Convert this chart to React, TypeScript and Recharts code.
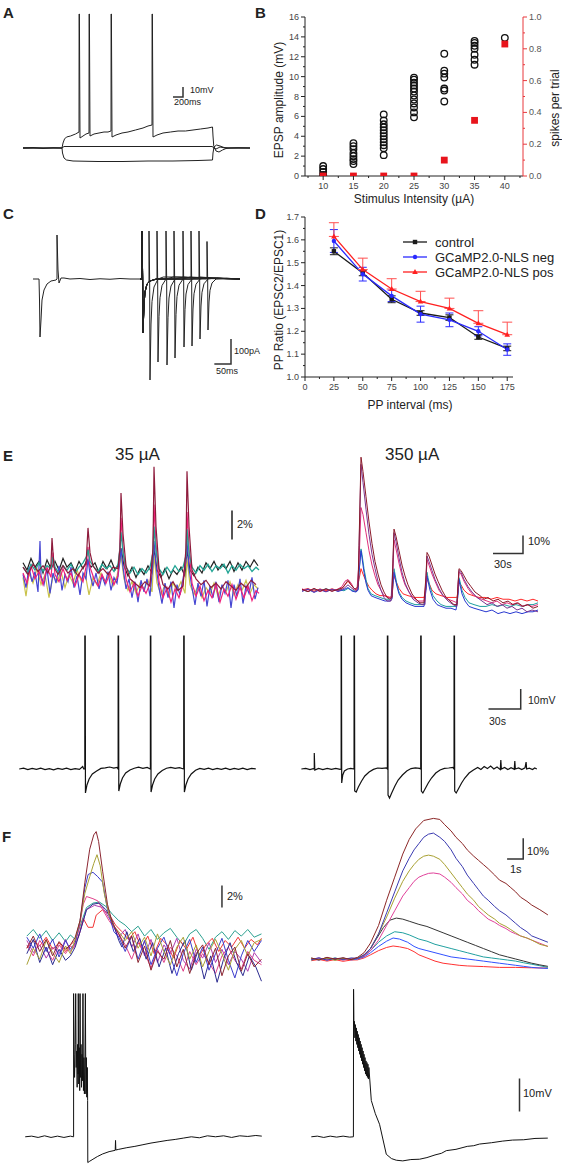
import React from 'react';
import { LineChart, Line, XAxis, YAxis, ComposedChart, Scatter, ErrorBar } from 'recharts';

const FONT = '"Liberation Sans", Arial, Helvetica, sans-serif';

// ---------------- Panel A : current-clamp steps (t ms, v mV) ----------------
const aSpiking = [[0,0],[200,0.5],[400,-0.5],[600,0.3],[780,0],[800,5],[830,9],[870,11],[950,12],[1050,14],[1120,16],[1122,134],[1128,134],[1140,10],[1200,12],[1260,14],[1320,15],[1322,134],[1328,134],[1340,12],[1420,14],[1520,15],[1620,16],[1700,16],[1760,17],[1762,134],[1768,134],[1780,11],[1860,13],[1980,15],[2100,16],[2250,18],[2400,20],[2500,22],[2580,23],[2582,134],[2588,134],[2600,11],[2680,13],[2800,15],[2950,16],[3100,17],[3250,17],[3400,18],[3550,19],[3700,20],[3790,21],[3800,12],[3815,2],[3860,-3],[3920,-4],[3990,-2],[4060,-0.5],[4140,0],[4300,0.3],[4540,0]];
const aSubthreshold = [[0,0.3],[780,0],[820,1.5],[1500,1.5],[2500,1.5],[3790,1.5],[3810,0],[3860,-1],[3940,1],[4040,0],[4540,0]];
const aHyperpol = [[0,-0.3],[780,0],[790,-5],[820,-10],[870,-12],[1000,-13],[1500,-13.5],[2000,-13.5],[2500,-13],[3000,-13],[3500,-12.5],[3790,-12],[3800,-5],[3820,1],[3870,3],[3940,2],[4020,0.5],[4120,0],[4540,0]];
const aScaleBar = [[3000,51],[3200,51],[3200,61]];

// ---------------- Panel B : EPSP amplitude vs stimulus ----------------
const stimIntensity = [10, 15, 20, 25, 30, 35, 40];
const epspAt10 = [0.1, 0.4, 0.7, 1.0];
const epspAt15 = [1.2, 1.5, 1.7, 2.0, 2.3, 2.7, 3.0, 3.3];
const epspAt20 = [2.1, 2.8, 3.1, 3.4, 3.7, 4.0, 4.3, 4.6, 4.9, 5.2, 5.6, 6.2];
const epspAt25 = [5.9, 6.4, 6.9, 7.3, 7.7, 8.1, 8.5, 8.8, 9.1, 9.4, 9.7, 9.9];
const epspAt30 = [7.5, 8.6, 8.8, 9.9, 10.3, 10.6, 12.3];
const epspAt35 = [11.2, 11.7, 12.2, 12.8, 13.1, 13.4, 13.6];
const epspAt40 = [13.9];
const epspByIntensity = [epspAt10, epspAt15, epspAt20, epspAt25, epspAt30, epspAt35, epspAt40];
const spikesPerTrial = [0, 0, 0, 0, 0.1, 0.35, 0.83];
const bTicksX = [7.5,10,12.5,15,17.5,20,22.5,25,27.5,30,32.5,35,37.5,40,42.5];
const bTicksLeft = [0,1,2,3,4,5,6,7,8,9,10,11,12,13,14,15,16];
const bTicksRight = [0,0.1,0.2,0.3,0.4,0.5,0.6,0.7,0.8,0.9,1.0];

// ---------------- Panel C : EPSCs (t ms, i pA) ----------------
const cFirst = [[9,0],[27,0],[28.5,-84],[30,-232],[33,-164],[36,-84],[42,-44],[51,-20],[63,-8],[78,-4],[81,0],[81,176],[84,36],[87,-16],[93,4],[102,4],[120,0],[150,2],[180,-2],[210,1],[240,-1],[270,2],[300,0],[333,0]];
const cPulse1 = [[330,0],[336,0],[336,192],[338,0],[339,-216],[342,-104],[345,-52],[351,-20]];
const cTail1 = [[357,-8],[357,192],[359,-8],[360,-404],[363,-180],[366,-90],[372,-32],[384,0],[400,8],[450,8],[520,2],[630,0]];
const cTail2 = [[360,-8],[372,-2],[381,0],[381,192],[383,0],[384,-332],[387,-150],[390,-75],[396,-26],[408,0],[430,8],[480,6],[550,2],[630,0]];
const cTail3 = [[360,-8],[380,0],[408,0],[408,192],[410,0],[411,-344],[414,-155],[417,-76],[423,-28],[435,0],[460,8],[520,4],[630,0]];
const cTail4 = [[360,-8],[380,0],[432,0],[432,192],[434,0],[435,-316],[438,-142],[441,-70],[447,-25],[459,0],[480,8],[540,4],[630,0]];
const cTail5 = [[360,-8],[380,0],[459,0],[459,192],[461,0],[462,-272],[465,-122],[468,-60],[474,-22],[486,0],[510,8],[560,3],[630,0]];
const cTail6 = [[360,-8],[380,0],[483,0],[483,192],[485,0],[486,-268],[489,-120],[492,-59],[498,-21],[510,0],[530,6],[580,2],[630,0]];
const cTail7 = [[360,-8],[380,0],[507,0],[507,192],[509,0],[510,-240],[513,-108],[516,-53],[522,-19],[534,0],[560,5],[630,0]];
const cTail8 = [[360,-8],[380,0],[531,0],[531,150],[533,0],[534,-204],[537,-92],[540,-45],[546,-16],[558,0],[590,3],[630,0]];
const cScaleBar = [[553,-340],[603,-340],[603,-240]];

// ---------------- Panel D : paired-pulse ratio ----------------
const ppInterval = [25, 50, 75, 100, 125, 150, 175];
const ppControl = [1.55, 1.455, 1.34, 1.28, 1.26, 1.175, 1.125];
const ppNeg = [1.595, 1.45, 1.355, 1.275, 1.25, 1.2, 1.12];
const ppPos = [1.615, 1.47, 1.385, 1.33, 1.30, 1.235, 1.185];
const ppControlErr = [0.015, 0.012, 0.015, 0.01, 0.012, 0.01, 0.01];
const ppNegErr = [0.05, 0.03, 0.025, 0.035, 0.03, 0.02, 0.025];
const ppPosErr = [0.06, 0.05, 0.045, 0.045, 0.045, 0.055, 0.055];
const dTicksX = [0,12.5,25,37.5,50,62.5,75,87.5,100,112.5,125,137.5,150,162.5,175];
const dTicksY = [1.0,1.05,1.1,1.15,1.2,1.25,1.3,1.35,1.4,1.45,1.5,1.55,1.6,1.65,1.7];
const legendNames = ['control', 'GCaMP2.0-NLS neg', 'GCaMP2.0-NLS pos'];

// ---------------- Panel E : 35 µA calcium (t s, dF/F %) ----------------
const eL_olive = [[3,-0.5],[6,-1.8],[9,-0.2],[13,-0.9],[17,0.1],[21,-1.0],[25,-0.3],[29,-1.9],[33,-0.4],[37,-0.8],[41,-0.1],[45,-1.2],[49,-0.3],[53,-0.9],[57,0.0],[61,-0.7],[65,-0.2],[69,-1.7],[73,-0.5],[77,-1.0],[81,-0.2],[85,-0.8],[89,-0.3],[93,-1.1],[97,-0.4],[101,1.0],[104,-0.6],[108,-1.4],[112,-0.8],[116,-1.6],[120,-0.9],[124,-1.3],[128,-0.7],[132,-1.5],[134,1.0],[137,-0.9],[141,-1.7],[145,-1.0],[149,-1.8],[153,-0.9],[157,-1.4],[161,-0.8],[165,-1.6],[167,0.8],[170,-1.0],[174,-1.7],[178,-1.1],[182,-1.9],[186,-1.2],[190,-1.6],[194,-0.9],[198,-1.8],[202,-1.1],[206,-1.5],[210,-0.8],[214,-1.7],[218,-1.0],[222,-1.4],[226,-0.7],[230,-1.6],[234,-1.0],[238,-1.3]];
const eL_blue = [[3,-0.3],[6,-1.2],[9,0.2],[12,-0.8],[15,-0.1],[18,-1.5],[20,2.0],[21,-0.4],[24,-1.0],[27,0.1],[30,-1.6],[33,-0.2],[36,-0.9],[39,0.3],[42,-1.4],[45,-0.3],[48,-0.8],[51,0.2],[54,-1.2],[57,-0.4],[60,-1.7],[63,-0.2],[66,-0.6],[68,0.8],[70,-0.3],[73,-1.1],[76,-0.2],[79,-1.3],[82,-0.4],[85,-1.0],[88,-0.1],[91,-1.4],[94,-0.5],[97,-0.9],[100,0.6],[101,1.5],[103,0.2],[106,-1.3],[109,-0.6],[112,-1.9],[115,-0.8],[118,-2.2],[121,-0.7],[124,-1.5],[127,-0.6],[130,-1.8],[133,0.5],[134,2.0],[136,0.3],[139,-1.2],[142,-2.3],[145,-0.9],[148,-1.9],[151,-0.8],[154,-2.6],[157,-1.0],[160,-1.7],[163,-0.6],[166,0.6],[167,2.0],[169,0.1],[172,-1.2],[175,-2.4],[178,-0.9],[181,-1.8],[184,-0.7],[187,-2.5],[190,-1.1],[193,-1.9],[196,-0.8],[199,-2.2],[202,-1.0],[205,-1.6],[208,-0.7],[211,-2.6],[214,-1.0],[217,-1.8],[220,-0.6],[223,-2.3],[226,-1.1],[229,-1.6],[232,-0.5],[235,-2.0],[238,-1.2]];
const eL_black = [[3,0.5],[7,0.0],[11,0.8],[15,0.2],[19,0.6],[23,-0.2],[27,0.7],[31,0.1],[35,0.6],[39,0.0],[43,0.8],[47,0.2],[51,0.5],[55,-0.1],[59,0.6],[63,0.1],[67,0.7],[71,0.2],[75,0.5],[79,-0.2],[83,0.6],[87,0.1],[91,0.7],[95,0.0],[99,0.4],[101,1.5],[104,0.3],[108,-0.4],[112,0.2],[116,-0.5],[120,0.1],[124,-0.3],[128,0.3],[132,-0.2],[134,1.5],[137,0.0],[141,-0.5],[145,0.1],[149,-0.6],[153,0.0],[157,-0.3],[161,0.2],[165,-0.4],[167,1.4],[170,0.0],[174,-0.4],[178,0.2],[182,-0.2],[186,0.5],[190,0.1],[194,0.6],[198,0.0],[202,0.4],[206,0.1],[210,0.6],[214,-0.1],[218,0.5],[222,0.0],[226,0.6],[230,0.2],[234,0.7],[238,0.3]];
const eL_pink = [[3,-0.2],[7,-0.9],[11,0.3],[15,-0.6],[19,-0.1],[23,-1.0],[27,0.2],[31,-0.5],[33,1.2],[35,-0.3],[39,-0.8],[43,0.1],[47,-0.7],[51,-0.2],[55,-1.1],[59,-0.3],[63,-0.8],[66,0.2],[68,1.6],[70,0.2],[74,-0.6],[78,-1.1],[82,-0.3],[86,-0.9],[90,-0.2],[94,-1.0],[98,-0.4],[100,1.8],[101,3.6],[103,1.5],[106,-0.6],[110,-1.5],[114,-0.9],[118,-1.8],[122,-1.1],[126,-1.6],[130,-0.9],[133,1.5],[134,4.5],[136,1.8],[139,-0.8],[143,-1.9],[147,-1.2],[151,-2.2],[155,-1.3],[159,-1.9],[163,-1.0],[166,1.2],[167,4.0],[169,1.5],[172,-0.9],[176,-1.8],[180,-1.1],[184,-2.1],[188,-1.4],[192,-1.9],[196,-1.0],[200,-2.2],[204,-1.3],[208,-1.8],[212,-1.0],[216,-2.0],[220,-1.2],[224,-1.9],[228,-1.1],[232,-2.1],[236,-1.4],[239,-1.6]];
const eL_teal = [[3,0.2],[7,-0.2],[11,0.4],[15,0.0],[19,0.5],[23,-0.1],[27,0.3],[31,0.1],[33,0.9],[35,0.2],[39,-0.2],[43,0.3],[47,0.0],[51,0.4],[55,-0.2],[59,0.2],[63,0.5],[67,1.0],[68,1.4],[70,0.6],[74,0.2],[78,-0.1],[82,0.4],[86,0.1],[90,0.3],[94,-0.1],[98,0.4],[100,1.5],[101,2.6],[103,1.2],[106,0.2],[110,-0.2],[114,0.2],[118,-0.3],[122,0.1],[126,-0.2],[130,0.2],[133,1.2],[134,3.0],[136,1.3],[139,0.1],[143,-0.3],[147,0.2],[151,-0.2],[155,0.3],[159,-0.1],[163,0.2],[166,1.0],[167,2.8],[169,1.2],[172,0.2],[176,-0.2],[180,0.3],[184,0.0],[188,0.4],[192,-0.1],[196,0.3],[200,0.1],[204,0.4],[208,-0.2],[212,0.3],[216,0.0],[220,0.4],[224,0.1],[228,0.3],[232,-0.1],[236,0.2],[239,0.0]];
const eL_darkred = [[3,0.2],[8,-0.3],[13,0.4],[18,-0.1],[23,0.3],[28,-0.2],[31,0.4],[32,2.2],[34,0.2],[38,-0.3],[43,0.3],[48,-0.2],[53,0.1],[58,-0.4],[63,0.2],[66,0.4],[68,2.9],[70,1.2],[73,0.3],[78,-0.2],[83,0.1],[88,-0.3],[93,0.2],[98,0.1],[100,1.5],[101,5.3],[103,2.5],[106,0.3],[110,-0.6],[115,-0.9],[120,-1.2],[125,-0.8],[130,-1.1],[133,1.5],[134,7.1],[136,3.0],[139,0.1],[143,-1.0],[148,-1.3],[153,-0.8],[158,-1.4],[163,-1.1],[166,1.5],[167,6.8],[169,3.0],[172,0.0],[176,-0.6],[181,-1.0],[186,-0.7],[191,-1.2],[196,-0.9],[201,-1.3],[206,-0.8],[211,-1.1],[216,-1.4],[221,-0.9],[226,-1.2],[231,-0.7],[236,-1.0]];
const eLScaleBar = [[212,2.1],[212,4.1]];

// ---------------- Panel E : 350 µA calcium (t s, dF/F %) ----------------
const eR_red = [[2,0.2],[8,0.9],[14,-0.5],[20,0.7],[26,-0.3],[32,0.8],[38,-0.2],[42,1],[45,3],[48,5],[51,3],[54,1],[57,0],[59,6],[61,12],[63,9],[66,5],[69,2],[72,0],[76,-2],[80,-3],[85,-3],[90,-4],[92,-3],[93,3],[94,8],[96,5],[99,1],[103,-2],[108,-3],[114,-4],[120,-4],[124,-4],[126,1],[127,6],[129,4],[132,0],[136,-2],[141,-3],[147,-4],[153,-4],[157,-4],[158,0],[159,4],[161,3],[164,0],[168,-2],[173,-3],[179,-4],[185,-4],[191,-5],[197,-4],[203,-5],[209,-5],[215,-6],[221,-5],[227,-6],[233,-5],[238,-6]];
const eR_teal = [[2,0.3],[8,-0.8],[14,0.6],[20,-0.6],[26,0.9],[32,-0.4],[38,0.5],[44,-0.3],[48,1],[52,0],[56,-0.8],[58,0.5],[59,10],[61,23],[62,20],[64,12],[66,6],[68,1],[71,-2],[75,-3],[80,-4],[85,-5],[90,-5],[92,-4],[93,6],[94,12],[95,9],[97,3],[99,-1],[102,-4],[106,-6],[110,-7],[115,-8],[120,-8],[124,-8],[126,2],[127,10],[128,7],[130,2],[133,-3],[137,-6],[141,-8],[146,-9],[151,-9],[156,-9],[158,-1],[159,7],[160,5],[162,0],[165,-4],[169,-7],[174,-8],[180,-9],[186,-9],[192,-8],[198,-9],[204,-8],[210,-9],[216,-8],[222,-9],[228,-8],[233,-8],[238,-7]];
const eR_blue = [[2,-0.6],[8,0.5],[14,-1.2],[20,0.3],[26,-0.9],[32,0.6],[38,-0.7],[44,0.4],[48,1.5],[52,-0.5],[56,-1],[58,0],[59,10],[61,22],[62,18],[64,10],[66,4],[68,0],[71,-3],[75,-4],[80,-5],[85,-6],[90,-6],[92,-5],[93,4],[94,10],[95,7],[97,2],[99,-2],[102,-5],[106,-7],[110,-8],[115,-9],[120,-9],[124,-9],[126,0],[127,8],[128,5],[130,0],[133,-5],[137,-8],[141,-9],[146,-10],[151,-10],[156,-11],[158,-3],[159,6],[160,3],[162,-2],[165,-6],[169,-9],[174,-10],[180,-11],[186,-12],[192,-11],[198,-13],[204,-12],[210,-13],[216,-12],[222,-13],[228,-12],[233,-12],[238,-11]];
const eR_pink = [[2,0.8],[8,-0.6],[14,0.9],[20,-0.8],[26,0.6],[32,-0.5],[38,0.7],[42,2],[45,5],[48,6],[51,4],[54,1],[57,0.5],[59,15],[61,46],[63,42],[66,32],[69,22],[72,14],[75,8],[78,3],[81,0],[84,-3],[88,-4],[92,-4],[93,12],[94,28],[96,23],[99,15],[102,8],[105,3],[109,-1],[113,-4],[118,-6],[124,-6],[126,5],[127,17],[129,14],[132,9],[135,5],[139,0],[143,-3],[148,-5],[153,-6],[157,-7],[158,2],[159,10],[161,9],[164,5],[168,1],[172,-2],[177,-4],[182,-5],[187,-6],[192,-7],[197,-6],[202,-8],[207,-7],[212,-8],[217,-7],[222,-9],[227,-8],[232,-9],[238,-8]];
const eR_purple = [[2,-0.5],[8,0.8],[14,-1],[20,0.6],[26,-0.8],[32,0.5],[38,-0.4],[44,1],[48,3],[52,1],[56,-0.5],[58,1],[59,22],[61,70],[63,60],[66,45],[69,31],[72,20],[75,12],[78,5],[81,0],[84,-4],[87,-6],[91,-6],[93,15],[94,32],[96,27],[99,18],[102,10],[105,4],[109,-1],[113,-5],[118,-7],[122,-8],[125,-8],[126,6],[127,19],[129,16],[132,11],[135,6],[139,1],[143,-3],[148,-6],[153,-8],[157,-9],[158,2],[159,11],[161,10],[164,6],[168,2],[172,-1],[177,-4],[182,-6],[187,-8],[192,-7],[197,-9],[202,-8],[207,-10],[212,-9],[217,-11],[222,-10],[227,-12],[232,-11],[238,-12]];
const eR_darkred = [[2,0.5],[8,-0.8],[14,1.0],[20,-0.5],[26,0.8],[32,-0.6],[38,0.5],[43,1.5],[46,4],[48,5.5],[51,3],[55,0.5],[58,2],[59,25],[61,74],[63,66],[66,52],[69,38],[72,26],[75,16],[78,9],[81,3],[84,-1],[87,-4],[90,-5],[92,-4],[93,18],[94,34],[96,30],[99,22],[102,14],[105,8],[108,3],[112,-2],[116,-5],[120,-7],[124,-7],[126,8],[127,21],[129,19],[132,14],[135,9],[138,5],[142,0],[146,-4],[150,-6],[154,-8],[157,-8],[158,3],[159,12],[161,11],[164,8],[167,5],[171,2],[175,-1],[180,-3],[184,-5],[188,-4],[193,-6],[198,-5],[203,-7],[208,-6],[213,-8],[218,-7],[223,-9],[228,-8],[233,-10],[238,-9]];
const eRScaleBar = [[193,20.5],[223,20.5],[223,30.5]];

// ---------------- Panel E : membrane potential (t s, v mV) ----------------
const eV35 = [[3,0],[7,0.4],[11,-0.3],[15,0.3],[19,-0.2],[23,0.4],[27,-0.3],[31,0.2],[35,-0.4],[39,0.3],[43,-0.2],[47,0.4],[51,-0.3],[55,0.2],[59,-0.2],[62,1.2],[63,0],[64,0],[64,66.5],[64.4,66.5],[64.6,-12],[66,-8],[68,-5],[71,-2.5],[75,-1],[79,0.3],[83,0.6],[87,1],[91,0.4],[94,0.8],[95,0],[95,66.5],[95.4,66.5],[95.6,-11],[97,-7.5],[99,-4.5],[102,-2],[106,-0.5],[110,0.4],[114,0.9],[118,0.3],[122,0.8],[125,0],[125,66.5],[125.4,66.5],[125.6,-11.5],[127,-8],[129,-5],[132,-2.5],[136,-0.8],[140,0.4],[144,0.8],[148,0.3],[152,0.7],[156,0],[156,66.5],[156.4,66.5],[156.6,-11.5],[158,-8],[160,-5],[163,-2.5],[167,-0.6],[171,0.3],[175,-0.2],[179,0.4],[183,-0.3],[187,0.3],[191,-0.2],[195,0.4],[199,-0.3],[203,0.3],[207,-0.2],[211,0.4],[215,-0.3],[219,0.3],[223,0.1]];
const eV350 = [[5,0],[9,0.3],[13,-0.3],[16,0.2],[17,0],[17,8],[17.5,-0.5],[21,0.3],[25,-0.3],[29,0.3],[33,-0.2],[37,0.3],[41,-0.2],[42,0],[42,66.5],[42.3,66.5],[42.5,-7],[43.5,-3],[45,-1],[48,0],[51,0.3],[54,0],[54,66.5],[54.4,66.5],[54.6,-11],[56,-11.5],[58,-9],[61,-6],[64,-3.5],[68,-1.5],[72,-0.2],[76,0.5],[80,0.3],[84,0.6],[85,0],[85,66.5],[85.4,66.5],[85.6,-13],[87,-14.5],[89,-12],[92,-8.5],[95,-5.5],[99,-3],[103,-1],[107,0.2],[111,0.6],[115,0.3],[116,0],[116,66.5],[116.4,66.5],[116.6,-11],[118,-12],[120,-10],[123,-7],[126,-4.5],[130,-2],[134,-0.5],[138,0.3],[142,0.5],[146,0.8],[147,0],[147,66.5],[147.4,66.5],[147.6,-11],[149,-12],[151,-10],[154,-7],[157,-4.5],[161,-2],[165,-0.5],[169,0.8],[172,-0.2],[175,1.2],[178,0.2],[181,1.5],[184,0],[187,1],[190,-0.3],[190.5,4.5],[191,0],[194,0.8],[197,-0.3],[200,0.6],[203,-0.2],[203.5,4],[204,0],[207,0.5],[210,-0.3],[213,0.6],[214,3.5],[214.5,0],[217,0.4],[220,-0.3],[222,0.5],[224,0]];
const eVScaleBar = [[179,30],[209,30],[209,40]];

// ---------------- Panel F : single-trial calcium (t s, dF/F %) ----------------
const fL_darkred = [[0.3,-0.5],[0.7,0.6],[1.1,-0.8],[1.5,0.3],[1.9,-1.2],[2.3,0.1],[2.7,-0.6],[3.0,-0.2],[3.3,0.5],[3.6,2.0],[3.9,5.5],[4.2,8.5],[4.45,9.8],[4.6,10.1],[4.75,9.2],[5.0,6.5],[5.3,3.5],[5.6,1.8],[6.0,0.8],[6.4,-0.5],[6.8,0.6],[7.2,-1.8],[7.6,-0.3],[8.0,-2.5],[8.4,-0.8],[8.8,-1.5],[9.2,0.2],[9.6,-2.2],[10.0,-0.6],[10.4,-2.8],[10.8,-1.0],[11.2,-0.2],[11.6,-2.0],[12.0,-0.5],[12.4,-3.0],[12.8,-1.2],[13.2,-0.4],[13.6,-2.6],[14.0,-1.0],[14.4,-2.2],[14.85,-1.5]];
const fL_olive = [[0.3,-2.0],[0.7,-0.5],[1.1,-1.5],[1.5,0.2],[1.9,-0.9],[2.3,-1.8],[2.7,-0.3],[3.0,-1.0],[3.3,0.3],[3.6,2.0],[3.9,4.5],[4.2,6.0],[4.45,7.2],[4.65,8.0],[4.85,7.0],[5.1,4.5],[5.4,2.5],[5.7,1.5],[6.0,1.0],[6.4,0.2],[6.8,1.0],[7.2,-0.5],[7.6,0.5],[8.0,-1.2],[8.4,0.8],[8.8,-0.8],[9.2,-2.0],[9.6,-0.4],[10.0,0.5],[10.4,-1.5],[10.8,-0.2],[11.2,-2.2],[11.6,-0.8],[12.0,0.3],[12.4,-1.0],[12.8,-2.5],[13.2,-0.6],[13.6,0.2],[14.0,-1.2],[14.4,0.0],[14.85,0.3]];
const fL_blue = [[0.3,0.5],[0.7,-0.5],[1.1,0.8],[1.5,-0.8],[1.9,0.3],[2.3,-1.3],[2.7,0.2],[3.0,-0.6],[3.3,0.0],[3.6,2.0],[3.9,5.0],[4.1,6.2],[4.4,6.4],[4.7,6.0],[5.0,5.5],[5.3,3.0],[5.7,1.0],[6.0,0.5],[6.4,-0.8],[6.8,0.6],[7.2,-1.5],[7.6,0.2],[8.0,-2.0],[8.4,-0.5],[8.8,0.5],[9.2,-1.2],[9.6,-3.0],[10.0,-1.0],[10.4,0.3],[10.8,-1.8],[11.2,-0.4],[11.6,-2.5],[12.0,-1.0],[12.4,0.4],[12.8,-1.6],[13.2,-3.2],[13.6,-1.2],[14.0,0.2],[14.4,-0.8],[14.85,0.2]];
const fL_pink = [[0.3,-0.2],[0.7,-1.2],[1.1,0.2],[1.5,-0.6],[1.9,-1.6],[2.3,-0.2],[2.7,-1.0],[3.0,-0.3],[3.2,-0.5],[3.5,1.0],[3.8,3.5],[4.0,4.2],[4.4,4.0],[4.7,3.8],[5.0,3.0],[5.4,2.0],[5.8,1.2],[6.0,0.8],[6.4,-0.2],[6.8,-1.5],[7.2,0.0],[7.6,-0.9],[8.0,-2.3],[8.4,-0.6],[8.8,-1.8],[9.2,-0.4],[9.6,-1.2],[10.0,-2.6],[10.4,-0.8],[10.8,-2.0],[11.2,-1.0],[11.6,-1.8],[12.0,-2.8],[12.4,-1.2],[12.8,-0.4],[13.2,-1.6],[13.6,-2.4],[14.0,-0.8],[14.4,-1.6],[14.85,-2.0]];
const fL_teal = [[0.3,0.6],[0.7,1.2],[1.1,0.4],[1.5,1.1],[1.9,0.2],[2.3,0.9],[2.7,0.1],[3.0,0.7],[3.3,0.3],[3.6,1.5],[4.0,3.2],[4.4,3.6],[4.8,3.7],[5.2,3.3],[5.6,2.6],[6.0,2.0],[6.4,1.6],[6.8,1.0],[7.2,1.5],[7.6,0.6],[8.0,1.2],[8.4,0.3],[8.8,0.9],[9.2,1.3],[9.6,0.5],[10.0,-0.2],[10.4,0.8],[10.8,1.2],[11.2,0.4],[11.6,-0.6],[12.0,0.5],[12.4,1.0],[12.8,0.3],[13.2,1.1],[13.6,0.6],[14.0,1.2],[14.4,0.5],[14.85,0.8]];
const fL_navy = [[0.3,-1.0],[0.7,0.3],[1.1,-1.8],[1.5,-0.4],[1.9,-2.0],[2.3,-0.6],[2.7,-1.6],[3.0,-1.2],[3.3,-0.4],[3.6,1.0],[4.0,3.0],[4.4,3.5],[4.8,3.6],[5.2,3.0],[5.6,2.0],[6.0,0.2],[6.2,-0.4],[6.5,1.0],[6.9,-0.8],[7.3,0.4],[7.7,-1.5],[8.1,0.0],[8.5,-2.2],[8.9,-0.5],[9.3,-2.8],[9.7,-1.0],[10.1,0.2],[10.5,-2.5],[10.9,-0.8],[11.3,-3.3],[11.7,-1.2],[12.1,-3.6],[12.5,-1.5],[12.9,0.0],[13.3,-1.8],[13.7,-3.0],[14.1,-1.2],[14.5,-2.2],[14.85,-3.5]];
const fL_red = [[0.3,-0.5],[0.7,0.2],[1.1,-0.3],[1.5,0.5],[1.9,-0.6],[2.3,0.0],[2.7,-0.8],[3.0,-0.2],[3.3,0.2],[3.5,0.5],[3.8,2.2],[4.1,1.4],[4.4,1.4],[4.6,2.5],[5.0,3.0],[5.4,2.6],[5.8,1.6],[6.2,1.0],[6.6,0.3],[7.0,1.0],[7.4,-0.5],[7.8,0.6],[8.2,-1.0],[8.6,0.4],[9.0,-0.2],[9.4,-1.4],[9.8,0.2],[10.2,-0.6],[10.6,0.5],[11.0,-1.2],[11.4,-0.2],[11.8,0.4],[12.2,-0.8],[12.6,0.2],[13.0,-0.4],[13.4,0.5],[13.8,-0.5],[14.2,0.3],[14.6,-0.2],[14.85,0.4]];
const fL_magenta = [[0.3,0.2],[0.7,-0.9],[1.1,-0.2],[1.5,-1.4],[1.9,-0.4],[2.3,-1.0],[2.7,0.3],[3.0,-0.8],[3.3,-0.2],[3.6,1.0],[4.0,3.0],[4.5,3.4],[5.0,3.2],[5.5,2.0],[6.0,0.5],[6.4,1.2],[6.8,-0.4],[7.2,0.8],[7.6,-1.2],[8.0,0.3],[8.4,-1.8],[8.8,-0.2],[9.2,-1.0],[9.6,0.4],[10.0,-1.6],[10.4,-2.4],[10.8,-0.6],[11.2,-1.4],[11.6,0.0],[12.0,-1.8],[12.4,-0.6],[12.8,-2.0],[13.2,-0.8],[13.6,-1.5],[14.0,-2.6],[14.4,-0.9],[14.85,-1.8]];
const fLScaleBar = [[12.4,3.2],[12.4,5.2]];

const fR_darkred = [[0.33,0.5],[0.8,-0.5],[1.3,0.8],[1.8,0],[2.3,0.6],[2.8,-0.3],[3.2,0.8],[3.6,3],[4.0,7.6],[4.5,16],[5.0,28],[5.5,39],[6.0,50],[6.4,57],[6.8,62],[7.3,66],[7.9,67],[8.3,66.5],[8.6,64],[9.0,61],[9.3,58],[9.7,55],[10.0,52],[10.4,49],[10.7,47],[11.0,45],[11.3,43],[11.7,40],[12.0,37.6],[12.4,36],[12.7,34],[13.0,32],[13.3,29.5],[13.7,27.5],[14.0,25.7],[14.5,23.5],[15.0,21]];
const fR_blue = [[0.33,-0.3],[0.8,0.6],[1.3,-0.6],[1.8,0.4],[2.3,-0.2],[2.8,0.5],[3.2,0.3],[3.6,2],[4.0,5],[4.5,12],[5.0,22],[5.5,32],[6.0,42],[6.4,48],[6.7,52],[7.0,55],[7.3,58],[7.6,59.5],[7.9,60],[8.3,58],[8.6,56],[9.0,52],[9.3,48],[9.7,44],[10.0,40],[10.4,36],[10.7,33],[11.0,30],[11.3,28],[11.7,25],[12.0,23],[12.4,21],[12.7,19],[13.0,17],[13.3,15],[13.7,13],[14.0,11],[14.5,9.5],[15.0,8]];
const fR_olive = [[0.33,0.3],[0.8,-0.4],[1.3,0.5],[1.8,-0.6],[2.3,0.4],[2.8,-0.2],[3.2,0.5],[3.6,2],[4.0,5],[4.5,12],[5.0,20],[5.5,29],[6.0,37],[6.4,42],[6.7,45],[7.0,47.5],[7.3,49],[7.6,49.5],[7.9,49],[8.3,47.5],[8.6,45],[9.0,41],[9.3,38],[9.7,34],[10.0,31],[10.4,28],[10.7,25],[11.0,23],[11.3,21],[11.7,19],[12.0,17],[12.4,15.5],[12.7,14],[13.0,12.5],[13.3,11],[13.7,10],[14.0,9],[14.5,7],[15.0,6]];
const fR_pink = [[0.33,-0.2],[0.8,0.5],[1.3,-0.4],[1.8,0.3],[2.3,-0.5],[2.8,0.2],[3.2,0.4],[3.6,1.5],[4.0,4],[4.5,9],[5.0,16],[5.5,23],[6.0,30],[6.4,34],[6.7,37],[7.0,39],[7.3,40],[7.6,40.8],[7.9,41],[8.3,40.5],[8.6,39],[9.0,36.5],[9.3,34],[9.7,31],[10.0,28],[10.4,25.5],[10.7,23],[11.0,21],[11.3,19],[11.7,17.5],[12.0,16],[12.4,14.5],[12.7,13],[13.0,12],[13.3,11],[13.7,10],[14.0,9],[14.5,7.5],[15.0,6]];
const fR_black = [[0.33,0.4],[0.8,-0.3],[1.3,0.6],[1.8,-0.4],[2.3,0.3],[2.8,-0.2],[3.2,0.5],[3.6,1.5],[4.0,5],[4.4,10],[4.8,15],[5.2,18.5],[5.6,19.5],[6.0,19],[6.4,18],[7.0,16.5],[7.5,15.5],[8.0,14],[8.5,12.5],[9.0,11],[9.5,9.5],[10.0,8],[10.5,6.5],[11.0,5],[11.5,3.5],[12.0,2],[12.5,1],[13.0,0],[13.5,-1],[14.0,-2],[14.5,-2.8],[15.0,-3.5]];
const fR_teal = [[0.33,-0.5],[0.8,0.3],[1.3,-0.3],[1.8,0.5],[2.3,-0.4],[2.8,0.3],[3.2,0.2],[3.6,1.5],[4.0,4],[4.5,8],[5.0,11],[5.5,13],[6.0,12.5],[6.4,11.5],[7.0,9.5],[7.5,8.5],[8.0,7],[8.5,6],[9.0,5],[9.5,4],[10.0,3],[10.5,2],[11.0,1],[11.5,0.5],[12.0,0],[12.5,-0.5],[13.0,-1],[13.5,-1.8],[14.0,-2.5],[14.5,-3.2],[15.0,-4]];
const fR_blue2 = [[0.33,0.2],[0.8,-0.5],[1.3,0.4],[1.8,-0.3],[2.3,0.5],[2.8,-0.4],[3.2,0.0],[3.6,1],[4.0,3],[4.5,6],[5.0,8.5],[5.4,10],[5.8,9.5],[6.3,8],[6.7,6],[7.0,5],[7.5,4],[8.0,3],[8.5,2],[9.0,1],[9.5,0.5],[10.0,0],[10.5,-0.5],[11.0,-1],[11.5,-1.5],[12.0,-2],[12.5,-2.5],[13.0,-3],[13.5,-3.5],[14.0,-4],[14.5,-4.3],[15.0,-4.5]];
const fR_red = [[0.33,-0.8],[0.8,-0.2],[1.3,-1.0],[1.8,-0.3],[2.3,-1.1],[2.8,-0.5],[3.2,-0.4],[3.6,0.5],[4.0,2],[4.5,4],[5.0,5.5],[5.4,6.2],[5.8,5.8],[6.3,5],[6.7,3.5],[7.0,2],[7.5,0.5],[8.0,-1],[8.5,-2],[9.0,-2.5],[9.5,-3],[10.0,-3.3],[11.0,-3.6],[12.0,-4],[13.0,-4],[14.0,-4.2],[15.0,-4.3]];
const fRScaleBar = [[12.47,47.6],[13.47,47.6],[13.47,57.6]];

// ---------------- Panel F : membrane potential (t s, v mV) ----------------
const fV35 = [[0.2,0],[0.6,0.2],[1.0,-0.2],[1.4,0.3],[1.8,-0.2],[2.2,0.2],[2.6,-0.2],[3.0,0.2],[3.18,0],[3.2,0],[3.2,43.4],[3.23,25],[3.26,18],[3.3,28],[3.33,43.4],[3.36,21],[3.39,26],[3.42,15],[3.45,28],[3.48,19],[3.49,43.4],[3.52,16],[3.55,27],[3.58,14],[3.6,43.4],[3.63,18],[3.66,28],[3.69,15],[3.72,25],[3.75,17],[3.78,43.4],[3.81,14],[3.84,24],[3.87,13],[3.9,23],[3.93,43.4],[3.96,13],[3.99,24],[4.02,12],[4.05,21],[4.07,11],[4.08,-7.8],[4.2,-7.4],[4.4,-6.8],[4.67,-6.0],[5.0,-5.2],[5.4,-4.5],[5.78,-4.1],[5.8,-1.1],[5.82,-4.0],[6.0,-3.8],[6.5,-3.3],[7.0,-2.9],[7.5,-2.4],[8.0,-1.9],[8.5,-1.5],[9.0,-1.1],[9.5,-0.8],[10.0,-0.4],[10.5,0],[11.0,-0.3],[11.5,0.3],[12.0,0],[12.5,0.3],[13.0,-0.2],[13.5,0.3],[14.0,0.1],[14.5,0.4],[14.87,0.2]];
const fV350 = [[0.33,0],[0.7,0.2],[1.1,-0.2],[1.5,0.2],[1.9,-0.1],[2.3,0.2],[2.7,-0.1],[2.94,0],[2.95,44.7],[2.97,34],[3.0,35],[3.03,30],[3.06,34],[3.09,29],[3.12,33],[3.15,28],[3.18,32],[3.21,27],[3.24,31],[3.27,26],[3.3,30],[3.33,25],[3.36,29],[3.39,24],[3.42,28],[3.45,23],[3.48,27],[3.51,22],[3.54,26],[3.57,21],[3.6,25],[3.63,20],[3.66,24],[3.69,19],[3.72,23],[3.75,18.5],[3.78,22.5],[3.81,18],[3.84,22],[3.87,17.5],[3.9,21],[4.05,11],[4.3,7],[4.56,3.8],[4.98,-5.3],[5.3,-6.6],[5.6,-7.1],[6.0,-7.3],[6.5,-6.9],[7.04,-6.8],[7.5,-6.3],[8.0,-5.5],[8.4,-5.0],[8.7,-4.2],[9.3,-3.8],[10.0,-2.9],[10.4,-2.7],[10.76,-2.2],[11.5,-1.8],[12.2,-1.3],[12.8,-1.0],[13.5,-0.9],[14.2,-0.5],[15.0,-0.4]];
const fVScaleBar = [[13.24,7.7],[13.24,17.7]];

// ---------------- helpers ----------------
const toPts = (arr) => arr.map(([t, v]) => ({ t, v }));

function TraceChart({ left, top, width, height, xDomain, yDomain, series }) {
  return (
    <div style={{ position: 'absolute', left, top }}>
      <LineChart width={width} height={height} margin={{ top: 0, right: 0, bottom: 0, left: 0 }}>
        <XAxis type="number" dataKey="t" domain={xDomain} hide height={0} allowDataOverflow />
        <YAxis type="number" domain={yDomain} hide width={0} allowDataOverflow />
        {series.map((s, i) => (
          <Line key={i} data={toPts(s.data)} dataKey="v" type="linear" stroke={s.color}
            strokeWidth={s.width || 1} dot={false} activeDot={false} isAnimationActive={false} />
        ))}
      </LineChart>
    </div>
  );
}

function Txt({ left, top, size = 10, bold = false, children, color = '#222' }) {
  return (
    <div style={{ position: 'absolute', left, top, fontSize: size, fontWeight: bold ? 700 : 400,
      color, lineHeight: 1, whiteSpace: 'nowrap', fontFamily: FONT }}>{children}</div>
  );
}

function VTxt({ cx, cy, size = 12, children }) {
  return (
    <div style={{ position: 'absolute', left: cx, top: cy, transform: 'translate(-50%,-50%) rotate(-90deg)',
      fontSize: size, color: '#222', lineHeight: 1, whiteSpace: 'nowrap', fontFamily: FONT }}>{children}</div>
  );
}

const BAR = '#333';

const xTick = (axisY, isMajor, fmt) => (props) => {
  const { x, payload } = props;
  const v = payload.value;
  const major = isMajor(v);
  return (
    <g key={`xt${v}`}>
      <line x1={x} x2={x} y1={axisY} y2={axisY + (major ? 4 : 2)} stroke="#222" strokeWidth={1} />
      {major && <text x={x} y={axisY + 13} textAnchor="middle" fontSize={9} fill="#444" fontFamily={FONT}>{fmt(v)}</text>}
    </g>
  );
};
const yTickLeft = (axisX, isMajor, fmt) => (props) => {
  const { y, payload } = props;
  const v = payload.value;
  const major = isMajor(v);
  return (
    <g key={`yl${v}`}>
      <line x1={axisX} x2={axisX - (major ? 4 : 2)} y1={y} y2={y} stroke="#222" strokeWidth={1} />
      {major && <text x={axisX - 6} y={y + 3} textAnchor="end" fontSize={9} fill="#444" fontFamily={FONT}>{fmt(v)}</text>}
    </g>
  );
};
const yTickRight = (axisX, isMajor, fmt) => (props) => {
  const { y, payload } = props;
  const v = payload.value;
  const major = isMajor(v);
  return (
    <g key={`yr${v}`}>
      <line x1={axisX} x2={axisX + (major ? 4 : 2)} y1={y} y2={y} stroke="#e8383d" strokeWidth={1} />
      {major && <text x={axisX + 6} y={y + 3} textAnchor="start" fontSize={9} fill="#555" fontFamily={FONT}>{fmt(v)}</text>}
    </g>
  );
};

function PanelB() {
  const epspPoints = stimIntensity.flatMap((x, i) => epspByIntensity[i].map((y) => ({ x, y })));
  const spikePoints = stimIntensity.map((x, i) => ({ x, y: spikesPerTrial[i] }));
  return (
    <div style={{ position: 'absolute', left: 270, top: 0 }}>
      <ComposedChart width={292} height={210} margin={{ top: 17, right: 0, bottom: 0, left: 0 }}>
        <XAxis type="number" dataKey="x" domain={[7, 43]} ticks={bTicksX} allowDataOverflow height={34}
          axisLine={{ stroke: '#222' }} tickLine={false}
          tick={xTick(176, (v) => v % 5 === 0, (v) => String(v))} interval={0} />
        <YAxis yAxisId="left" orientation="left" type="number" dataKey="y" domain={[0, 16]} ticks={bTicksLeft}
          width={35} allowDataOverflow axisLine={{ stroke: '#222' }} tickLine={false} interval={0}
          tick={yTickLeft(35, (v) => v % 2 === 0, (v) => String(v))} />
        <YAxis yAxisId="right" orientation="right" type="number" dataKey="y" domain={[0, 1]} ticks={bTicksRight}
          width={39} allowDataOverflow axisLine={{ stroke: '#e8383d' }} tickLine={false} interval={0}
          tick={yTickRight(253, (v) => Math.round(v * 10) % 2 === 0, (v) => v.toFixed(1))} />
        <Scatter yAxisId="left" data={epspPoints} isAnimationActive={false}
          shape={(p) => <circle cx={p.cx} cy={p.cy} r={3.3} fill="none" stroke="#111" strokeWidth={1.3} />} />
        <Scatter yAxisId="right" data={spikePoints} isAnimationActive={false}
          shape={(p) => <rect x={p.cx - 3.4} y={p.cy - 3.4} width={6.8} height={6.8} fill="#e8141c" />} />
      </ComposedChart>
    </div>
  );
}

const squareDot = (color) => (p) => <rect key={`s${p.index}`} x={p.cx - 2.2} y={p.cy - 2.2} width={4.4} height={4.4} fill={color} />;
const circleDot = (color) => (p) => <circle key={`c${p.index}`} cx={p.cx} cy={p.cy} r={2.2} fill={color} />;
const triDot = (color) => (p) => <polygon key={`t${p.index}`} points={`${p.cx},${p.cy - 3} ${p.cx - 2.8},${p.cy + 2} ${p.cx + 2.8},${p.cy + 2}`} fill={color} />;

function PanelD() {
  const rows = ppInterval.map((x, i) => ({
    x,
    control: ppControl[i], neg: ppNeg[i], pos: ppPos[i],
    controlErr: ppControlErr[i], negErr: ppNegErr[i], posErr: [0, ppPosErr[i]],
  }));
  const colors = ['#1a1a1a', '#2a2aff', '#ff2020'];
  return (
    <>
      <div style={{ position: 'absolute', left: 270, top: 200 }}>
        <LineChart width={292} height={215} data={rows} margin={{ top: 17, right: 49, bottom: 0, left: 0 }}>
          <XAxis type="number" dataKey="x" domain={[0, 180]} ticks={dTicksX} allowDataOverflow height={38}
            axisLine={{ stroke: '#222' }} tickLine={false} interval={0}
            tick={xTick(177, (v) => v % 25 === 0, (v) => String(v))} />
          <YAxis type="number" domain={[1.0, 1.7]} ticks={dTicksY} width={35} allowDataOverflow
            axisLine={{ stroke: '#222' }} tickLine={false} interval={0}
            tick={yTickLeft(35, (v) => Math.round(v * 100) % 10 === 0, (v) => v.toFixed(1))} />
          <Line dataKey="control" stroke={colors[0]} strokeWidth={1.3} dot={squareDot(colors[0])} activeDot={false} isAnimationActive={false}>
            <ErrorBar dataKey="controlErr" width={4} stroke={colors[0]} strokeWidth={1} />
          </Line>
          <Line dataKey="neg" stroke={colors[1]} strokeWidth={1.3} dot={circleDot(colors[1])} activeDot={false} isAnimationActive={false}>
            <ErrorBar dataKey="negErr" width={4} stroke={colors[1]} strokeWidth={1} />
          </Line>
          <Line dataKey="pos" stroke={colors[2]} strokeWidth={1.3} dot={triDot(colors[2])} activeDot={false} isAnimationActive={false}>
            <ErrorBar dataKey="posErr" width={5} stroke="#ff5050" strokeWidth={1} />
          </Line>
        </LineChart>
      </div>
      <svg style={{ position: 'absolute', left: 400, top: 234 }} width={162} height={46}>
        {legendNames.map((name, i) => {
          const y = 8 + i * 15;
          const c = colors[i];
          return (
            <g key={name}>
              <line x1={3} x2={27} y1={y} y2={y} stroke={c} strokeWidth={1.3} />
              {i === 0 && <rect x={12.8} y={y - 2.2} width={4.4} height={4.4} fill={c} />}
              {i === 1 && <circle cx={15} cy={y} r={2.2} fill={c} />}
              {i === 2 && <polygon points={`15,${y - 3} 12.2,${y + 2} 17.8,${y + 2}`} fill={c} />}
              <text x={35} y={y + 4.5} fontSize={13} fill="#222" fontFamily={FONT}>{name}</text>
            </g>
          );
        })}
      </svg>
    </>
  );
}

export default function App() {
  return (
    <div style={{ position: 'absolute', left: 0, top: 0, width: 562, height: 1167, background: '#fff', overflow: 'hidden', fontFamily: FONT }}>
      {/* Panel labels */}
      <Txt left={3} top={5} size={15} bold>A</Txt>
      <Txt left={255} top={5} size={15} bold>B</Txt>
      <Txt left={3} top={206} size={15} bold>C</Txt>
      <Txt left={255} top={206} size={15} bold>D</Txt>
      <Txt left={3} top={448} size={15} bold>E</Txt>
      <Txt left={2} top={829} size={15} bold>F</Txt>

      {/* A */}
      <TraceChart left={23} top={10} width={230} height={160} xDomain={[0, 4600]} yDomain={[-22, 138]}
        series={[
          { data: aHyperpol, color: '#222' },
          { data: aSubthreshold, color: '#222' },
          { data: aSpiking, color: '#222' },
          { data: aScaleBar, color: BAR, width: 1.5 },
        ]} />
      <Txt left={190} top={86} size={9}>10mV</Txt>
      <Txt left={174} top={98} size={9}>200ms</Txt>

      {/* B */}
      <PanelB />
      <VTxt cx={279} cy={100}>EPSP amplitude (mV)</VTxt>
      <VTxt cx={555} cy={108}>spikes per trial</VTxt>
      <div style={{ position: 'absolute', left: 414, top: 199, transform: 'translate(-50%,-50%)', fontSize: 12, color: '#222', whiteSpace: 'nowrap', lineHeight: 1 }}>Stimulus Intensity (µA)</div>

      {/* C */}
      <TraceChart left={30} top={225} width={216} height={160} xDomain={[0, 648]} yDomain={[-424, 216]}
        series={[
          { data: cFirst, color: '#222' },
          { data: [...cPulse1, ...cTail1], color: '#222' },
          { data: [...cPulse1, ...cTail2], color: '#222' },
          { data: [...cPulse1, ...cTail3], color: '#222' },
          { data: [...cPulse1, ...cTail4], color: '#222' },
          { data: [...cPulse1, ...cTail5], color: '#222' },
          { data: [...cPulse1, ...cTail6], color: '#222' },
          { data: [...cPulse1, ...cTail7], color: '#222' },
          { data: [...cPulse1, ...cTail8], color: '#222' },
          { data: cScaleBar, color: BAR, width: 1.5 },
        ]} />
      <Txt left={234} top={347} size={9}>100pA</Txt>
      <Txt left={216} top={367} size={9}>50ms</Txt>

      {/* D */}
      <PanelD />
      <VTxt cx={279} cy={300}>PP Ratio (EPSC2/EPSC1)</VTxt>
      <div style={{ position: 'absolute', left: 410, top: 405, transform: 'translate(-50%,-50%)', fontSize: 12, color: '#222', whiteSpace: 'nowrap', lineHeight: 1 }}>PP interval (ms)</div>

      {/* E */}
      <Txt left={115} top={446} size={17}>35 µA</Txt>
      <Txt left={385} top={446} size={17}>350 µA</Txt>
      <TraceChart left={20} top={461} width={240} height={160} xDomain={[0, 240]} yDomain={[-3.5, 7.5]}
        series={[
          { data: eL_black, color: '#222', width: 1.2 },
          { data: eL_olive, color: '#c9c24a', width: 1.2 },
          { data: eL_blue, color: '#4646d2', width: 1.2 },
          { data: eL_pink, color: '#f0207a', width: 1.2 },
          { data: eL_teal, color: '#22a595', width: 1.3 },
          { data: eL_darkred, color: '#8e1b3c', width: 1.2 },
          { data: eLScaleBar, color: '#555', width: 2 },
        ]} />
      <Txt left={237} top={519} size={11}>2%</Txt>
      <TraceChart left={300} top={450} width={240} height={169} xDomain={[0, 240]} yDomain={[-16, 78]}
        series={[
          { data: eR_red, color: '#ff2a2a' },
          { data: eR_teal, color: '#1e9ea0' },
          { data: eR_blue, color: '#2838d0' },
          { data: eR_pink, color: '#e0307a' },
          { data: eR_purple, color: '#7a3590' },
          { data: eR_darkred, color: '#8b1a2a' },
          { data: eRScaleBar, color: BAR, width: 1.5 },
        ]} />
      <Txt left={528} top={536} size={11}>10%</Txt>
      <Txt left={494} top={559} size={11}>30s</Txt>
      <TraceChart left={16.1} top={630} width={247.3} height={170} xDomain={[0, 230]} yDomain={[-15.5, 69.5]}
        series={[{ data: eV35, color: '#111', width: 1.2 }]} />
      <TraceChart left={295.6} top={630} width={247.3} height={170} xDomain={[0, 230]} yDomain={[-15.5, 69.5]}
        series={[
          { data: eV350, color: '#111', width: 1.2 },
          { data: eVScaleBar, color: BAR, width: 1.5 },
        ]} />
      <Txt left={528} top={695} size={10.5}>10mV</Txt>
      <Txt left={489} top={716} size={10.5}>30s</Txt>

      {/* F */}
      <TraceChart left={21.5} top={825} width={241.9} height={165} xDomain={[0, 15]} yDomain={[-4.3, 10.7]}
        series={[
          { data: fL_teal, color: '#2aa090' },
          { data: fL_red, color: '#f03535' },
          { data: fL_magenta, color: '#b03cb0' },
          { data: fL_pink, color: '#e0408a' },
          { data: fL_navy, color: '#2a2a90' },
          { data: fL_blue, color: '#3a3acc' },
          { data: fL_olive, color: '#a8a035' },
          { data: fL_darkred, color: '#8b2530' },
          { data: fLScaleBar, color: BAR, width: 1.5 },
        ]} />
      <Txt left={227} top={891} size={11}>2%</Txt>
      <TraceChart left={306.4} top={810} width={241.9} height={170} xDomain={[0, 15]} yDomain={[-10, 71]}
        series={[
          { data: fR_red, color: '#ff3030' },
          { data: fR_blue2, color: '#3050ff' },
          { data: fR_teal, color: '#20a0a0' },
          { data: fR_black, color: '#333' },
          { data: fR_pink, color: '#e0409a' },
          { data: fR_olive, color: '#a8a030' },
          { data: fR_blue, color: '#3a3ab0' },
          { data: fR_darkred, color: '#8b2525' },
          { data: fRScaleBar, color: BAR, width: 1.5 },
        ]} />
      <Txt left={527} top={846} size={11}>10%</Txt>
      <Txt left={510} top={864} size={11}>1s</Txt>
      <TraceChart left={21.5} top={984.5} width={241.9} height={183.15} xDomain={[0, 15]} yDomain={[-9.5, 46]}
        series={[{ data: fV35, color: '#111', width: 1 }]} />
      <TraceChart left={306.4} top={984.5} width={241.9} height={183.15} xDomain={[0, 15]} yDomain={[-9.5, 46]}
        series={[
          { data: fV350, color: '#111', width: 1 },
          { data: fVScaleBar, color: BAR, width: 1.5 },
        ]} />
      <Txt left={523} top={1088} size={11}>10mV</Txt>
    </div>
  );
}
